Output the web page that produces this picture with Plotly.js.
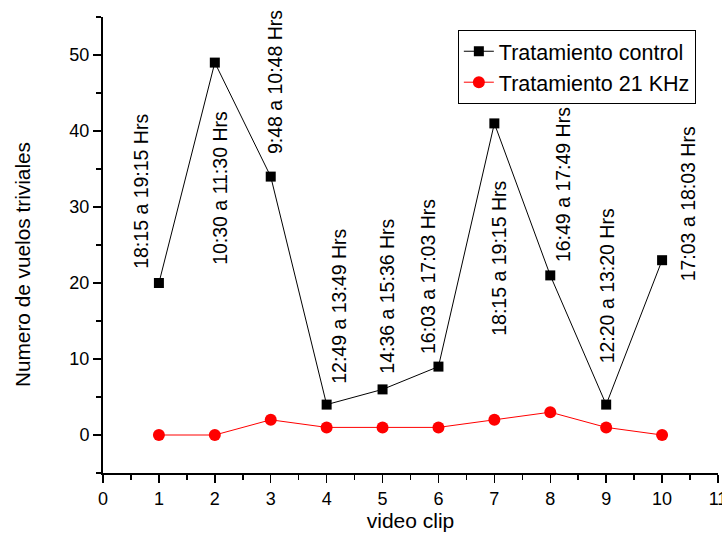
<!DOCTYPE html>
<html>
<head>
<meta charset="utf-8">
<script src="https://cdn.plot.ly/plotly-3.0.1.min.js"></script>
<style>html,body{margin:0;padding:0;background:#fff}#chart{width:722px;height:540px}</style>
</head>
<body>
<div id="chart"></div>
<script>
// ---- data ----
var clips = [1, 2, 3, 4, 5, 6, 7, 8, 9, 10];
var controlValues = [20, 49, 34, 4, 6, 9, 41, 21, 4, 23];
var khzValues = [0, 0, 2, 1, 1, 1, 2, 3, 1, 0];
var timeLabels = ["18:15 a 19:15 Hrs", "10:30 a 11:30 Hrs", "9:48 a 10:48 Hrs", "12:49 a 13:49 Hrs",
  "14:36 a 15:36 Hrs", "16:03 a 17:03 Hrs", "18:15 a 19:15 Hrs", "16:49 a 17:49 Hrs",
  "12:20 a 13:20 Hrs", "17:03 a 18:03 Hrs"];
var seriesNames = ["Tratamiento control", "Tratamiento 21 KHz"];

// ---- label placement (layout only) ----
var labelPosX = [0.68, 2.09, 3.09, 4.22, 5.08, 5.81, 7.08, 8.23, 9.02, 10.47];
var labelPosY = [32.0, 32.5, 46.4, 17.0, 18.2, 20.9, 23.3, 32.9, 19.6, 30.4];

var FONT = "Liberation Sans, Arial, sans-serif";

var traces = [
  {x: clips, y: controlValues, name: seriesNames[0], type: "scatter", mode: "lines+markers",
   line: {color: "#000", width: 1}, marker: {symbol: "square", size: 10, color: "#000"}},
  {x: clips, y: khzValues, name: seriesNames[1], type: "scatter", mode: "lines+markers",
   line: {color: "#ff0000", width: 1}, marker: {symbol: "circle", size: 12, color: "#ff0000"}}
];

var annotations = timeLabels.map(function (t, i) {
  return {x: labelPosX[i], y: labelPosY[i], xref: "x", yref: "y", text: t, showarrow: false,
    textangle: -90, xanchor: "center", yanchor: "middle", font: {family: FONT, size: 19.5, color: "#000"}};
});
annotations.push({x: -0.1317, y: 0.456, xref: "paper", yref: "paper", text: "Numero de vuelos triviales",
  showarrow: false, textangle: -90, xanchor: "center", yanchor: "middle",
  font: {family: FONT, size: 20.8, color: "#000"}});

var layout = {
  width: 722, height: 540,
  margin: {l: 103, r: 4, t: 17, b: 67, pad: 0},
  paper_bgcolor: "#fff", plot_bgcolor: "#fff",
  font: {family: FONT, size: 18, color: "#000"},
  showlegend: true,
  legend: {x: 0.577, y: 0.972, xanchor: "left", yanchor: "top", bgcolor: "#fff",
    bordercolor: "#000", borderwidth: 1, font: {family: FONT, size: 21.5, color: "#000"},
    tracegroupgap: 0},
  xaxis: {range: [0, 11], dtick: 1, tick0: 0, showgrid: false, zeroline: false,
    showline: true, linecolor: "#000", linewidth: 2, ticks: "outside", ticklen: 8, tickwidth: 1.5,
    tickcolor: "#000", tickfont: {family: FONT, size: 18}, ticklabeloverflow: "allow",
    minor: {dtick: 0.5, ticks: "outside", ticklen: 5, tickwidth: 1.5, tickcolor: "#000", showgrid: false},
    title: {text: "video clip", font: {family: FONT, size: 21}, standoff: 6}, automargin: false},
  yaxis: {range: [-5, 55], dtick: 10, tick0: 0, showgrid: false, zeroline: false,
    showline: true, linecolor: "#000", linewidth: 2, ticks: "outside", ticklen: 8, tickwidth: 1.5,
    tickcolor: "#000", tickfont: {family: FONT, size: 18},
    minor: {dtick: 5, ticks: "outside", ticklen: 5, tickwidth: 1.5, tickcolor: "#000", showgrid: false},
    automargin: false},
  annotations: annotations
};

Plotly.newPlot("chart", traces, layout, {displayModeBar: false, staticPlot: true});
</script>
</body>
</html>
